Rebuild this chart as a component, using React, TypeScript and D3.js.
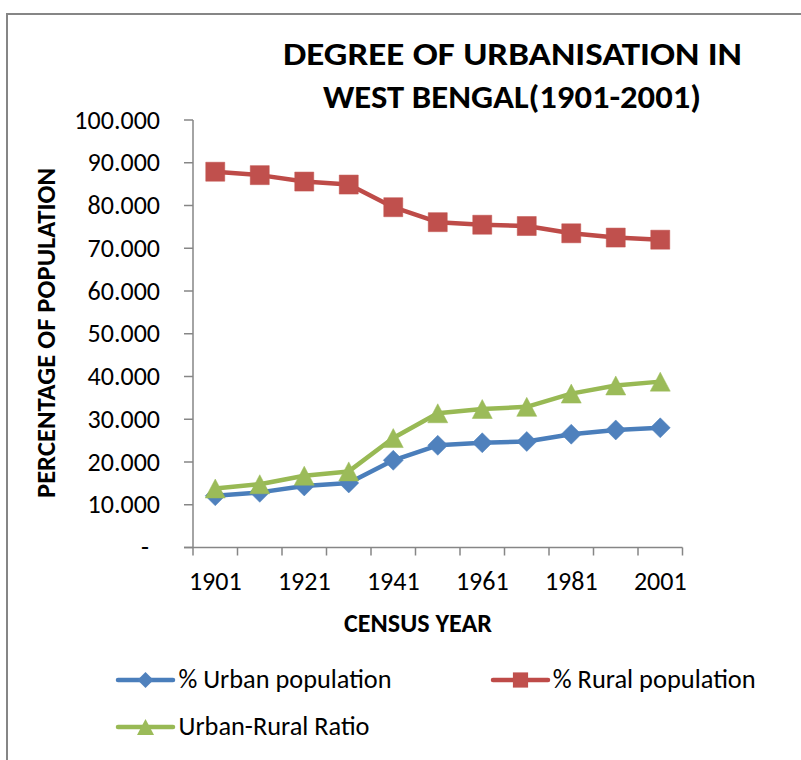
import React from "react";
import * as d3 from "d3";

const years = ["1901", "1911", "1921", "1931", "1941", "1951", "1961", "1971", "1981", "1991", "2001"];
const urbanPct = [12.1, 12.9, 14.4, 15.1, 20.4, 23.9, 24.5, 24.8, 26.5, 27.5, 28.0];
const ruralPct = [87.9, 87.1, 85.6, 84.9, 79.6, 76.1, 75.5, 75.2, 73.5, 72.5, 72.0];
const ratio = [13.8, 14.8, 16.8, 17.8, 25.6, 31.4, 32.4, 32.9, 36.0, 37.9, 38.8];
const yTicks = [0, 10, 20, 30, 40, 50, 60, 70, 80, 90, 100];
const xLabelYears = ["1901", "1921", "1941", "1961", "1981", "2001"];

const seriesNames = ["% Urban population", "% Rural population", "Urban-Rural Ratio"];

const FONT = "Carlito, Calibri, 'Open Sans', sans-serif";
const AXIS = "#868686";

type Shape = "diamond" | "square" | "triangle";

function markerPath(shape: Shape, cx: number, cy: number, k = 1): string {
  const p = d3.path();
  if (shape === "diamond") {
    const r = 10 * k;
    p.moveTo(cx, cy - r);
    p.lineTo(cx + r, cy);
    p.lineTo(cx, cy + r);
    p.lineTo(cx - r, cy);
    p.closePath();
  } else if (shape === "square") {
    const h = 9.5 * k;
    p.rect(cx - h, cy - h, 2 * h, 2 * h);
  } else {
    const w = 10 * k, h = 9.5 * k;
    p.moveTo(cx, cy - h);
    p.lineTo(cx + w, cy + h);
    p.lineTo(cx - w, cy + h);
    p.closePath();
  }
  return p.toString();
}

export default function App() {
  const width = 801, height = 760;
  const x = d3.scaleBand<string>().domain(years).range([193, 682.5]).padding(0);
  const y = d3.scaleLinear().domain([0, 100]).range([547.5, 120]);
  const cx = (yr: string) => (x(yr) as number) + x.bandwidth() / 2;

  const series = [
    { name: seriesNames[0], values: urbanPct, line: "#4A7EBB", fill: "#4F81BD", shape: "diamond" as Shape },
    { name: seriesNames[1], values: ruralPct, line: "#BE4B48", fill: "#C0504D", shape: "square" as Shape },
    { name: seriesNames[2], values: ratio, line: "#98B954", fill: "#9BBB59", shape: "triangle" as Shape },
  ];

  const lineGen = d3
    .line<number>()
    .x((_, i) => cx(years[i]))
    .y((d) => y(d));

  const legendItems = [
    { s: series[0], lx: 118, ly: 680, tx: 178.5, tw: 213 },
    { s: series[1], lx: 493, ly: 680, tx: 552.7, tw: 203 },
    { s: series[2], lx: 118, ly: 727, tx: 178.5, tw: 191 },
  ];

  const [x0, x1] = x.range();

  return (
    <svg width={width} height={height} style={{ position: "absolute", left: 0, top: 0, background: "#fff" }}>
      <rect x={0} y={0} width={width} height={height} fill="#fff" />
      <rect x={7} y={14} width={1000} height={1000} fill="none" stroke={AXIS} strokeWidth={2} />

      {/* Title */}
      <text x={512.5} y={65} textAnchor="middle" fontFamily={FONT} fontWeight="bold" fontSize={33}
        textLength={459} lengthAdjust="spacingAndGlyphs" fill="#000">DEGREE OF URBANISATION IN</text>
      <text x={512} y={107.5} textAnchor="middle" fontFamily={FONT} fontWeight="bold" fontSize={33}
        textLength={378} lengthAdjust="spacingAndGlyphs" fill="#000">WEST BENGAL(1901-2001)</text>

      {/* Y axis */}
      <line x1={x0} x2={x0} y1={y(100)} y2={y(0)} stroke={AXIS} strokeWidth={1.5} />
      {yTicks.map((t) => (
        <g key={t}>
          <line x1={x0 - 9} x2={x0} y1={y(t)} y2={y(t)} stroke={AXIS} strokeWidth={1.5} />
          <text x={t === 0 ? 149 : 160} y={y(t)} dy="0.33em" textAnchor="end" fontFamily={FONT} fontSize={26} fill="#000">
            {t === 0 ? "-" : t.toFixed(3)}
          </text>
        </g>
      ))}

      {/* X axis */}
      <line x1={x0 - 9} x2={x1} y1={y(0)} y2={y(0)} stroke={AXIS} strokeWidth={1.5} />
      {years.map((yr) => (
        <line key={yr} x1={x(yr)} x2={x(yr)} y1={y(0)} y2={y(0) + 8} stroke={AXIS} strokeWidth={1.5} />
      ))}
      <line x1={x1} x2={x1} y1={y(0)} y2={y(0) + 8} stroke={AXIS} strokeWidth={1.5} />
      {xLabelYears.map((yr) => (
        <text key={yr} x={cx(yr)} y={590} textAnchor="middle" fontFamily={FONT} fontSize={26} fill="#000">{yr}</text>
      ))}

      {/* Axis titles */}
      <text transform="translate(55,333) rotate(-90)" textAnchor="middle" fontFamily={FONT} fontWeight="bold"
        fontSize={26} textLength={330} lengthAdjust="spacingAndGlyphs" fill="#000">PERCENTAGE OF POPULATION</text>
      <text x={418} y={632} textAnchor="middle" fontFamily={FONT} fontWeight="bold" fontSize={26}
        textLength={148} lengthAdjust="spacingAndGlyphs" fill="#000">CENSUS YEAR</text>

      {/* Series */}
      {series.map((s) => (
        <g key={s.name}>
          <path d={lineGen(s.values) || ""} fill="none" stroke={s.line} strokeWidth={4.5} strokeLinejoin="round" strokeLinecap="round" />
          {s.values.map((v, i) => (
            <path key={i} d={markerPath(s.shape, cx(years[i]), y(v))} fill={s.fill} stroke={s.fill} strokeWidth={0.5} />
          ))}
        </g>
      ))}

      {/* Legend */}
      {legendItems.map(({ s, lx, ly, tx, tw }) => (
        <g key={s.name}>
          <line x1={lx} x2={lx + 55} y1={ly} y2={ly} stroke={s.line} strokeWidth={4.5} strokeLinecap="round" />
          <path d={markerPath(s.shape, lx + 27.5, ly, s.shape === "triangle" ? 0.85 : 0.8)} fill={s.fill} />
          <text x={tx} y={ly + 8} fontFamily={FONT} fontSize={26} textLength={tw} lengthAdjust="spacingAndGlyphs" fill="#000">{s.name}</text>
        </g>
      ))}
    </svg>
  );
}
